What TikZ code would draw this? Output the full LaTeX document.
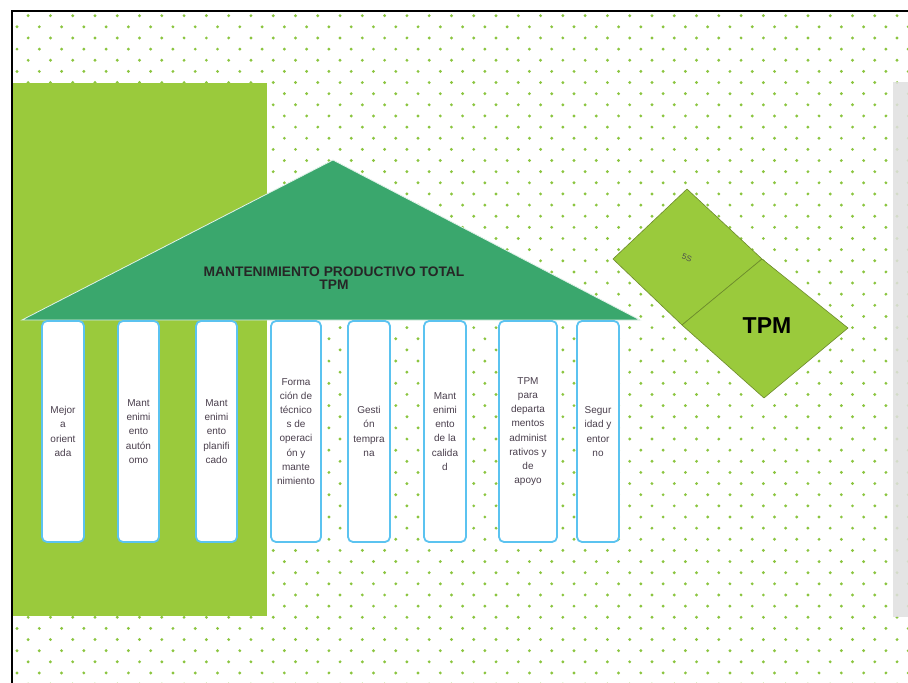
\documentclass[tikz,border=0pt]{standalone}
\usepackage{fontspec}
\setmainfont{Liberation Sans}
\definecolor{leaf}{HTML}{9ACA3C}
\definecolor{roofgreen}{HTML}{3AA76D}
\definecolor{dotgreen}{HTML}{8BC53F}
\definecolor{skyline}{HTML}{5BC3F0}
\definecolor{olive}{HTML}{6C8A2B}
\definecolor{pillartext}{HTML}{4A3F4D}
\tikzset{
  pillarbox/.style={draw=skyline, line width=1.8pt, fill=white, rounded corners=5pt,
    minimum height=221pt, inner sep=0pt, align=center, text=pillartext,
    font=\fontsize{10}{14.2}\selectfont},
  tile/.style={fill=leaf, draw=olive, line width=0.6pt, line join=round},
  dot/.style={fill=dotgreen},
}
\begin{document}
\begin{tikzpicture}[x=1pt,y=-1pt]
\useasboundingbox (0,0) rectangle (908,683);
\fill[white] (0,0) rectangle (908,683);

% dotted background inside the frame
\begin{scope}
  \clip (12,12) rectangle (908,683);
  \foreach \k in {0,...,61}{
    \pgfmathsetmacro\yy{15.7+11.14*\k}
    \pgfmathsetmacro\xo{17+11.14*(1-mod(\k,2))}
    \foreach \j in {0,...,40}{
      \fill[dot] (\xo+22.28*\j,\yy) circle (1.6);
    }
  }
\end{scope}

% grey strip on the right edge
\fill[black!12, opacity=0.85] (893,82) rectangle (908,617);

% frame
\draw[line width=2pt] (11.5,683) -- (11.5,11) -- (908,11);

% green backdrop block
\fill[leaf] (12.5,83) rectangle (267,616);

% roof
\fill[roofgreen, draw=white!85!roofgreen, line width=0.8pt] (22,320) -- (333,160) -- (640,320) -- cycle;
\node[font=\bfseries\fontsize{13.8}{13}\selectfont, align=center, text=black!85] (roofText) at (334,278)
  {MANTENIMIENTO PRODUCTIVO TOTAL\\TPM};

% pillars
\node[pillarbox, minimum width=42pt] (p1) at (63,431.5) {Mejor\\a\\orient\\ada};
\node[pillarbox, minimum width=41pt] (p2) at (138.5,431.5) {Mant\\enimi\\ento\\autón\\omo};
\node[pillarbox, minimum width=41pt] (p3) at (216.5,431.5) {Mant\\enimi\\ento\\planifi\\cado};
\node[pillarbox, minimum width=50pt] (p4) at (296,431.5) {Forma\\ción de\\técnico\\s de\\operaci\\ón y\\mante\\nimiento};
\node[pillarbox, minimum width=42pt] (p5) at (369,431.5) {Gesti\\ón\\tempra\\na};
\node[pillarbox, minimum width=42pt] (p6) at (445,431.5) {Mant\\enimi\\ento\\de la\\calida\\d};
\node[pillarbox, minimum width=58pt] (p7) at (528,431.5) {TPM\\para\\departa\\mentos\\administ\\rativos y\\de\\apoyo};
\node[pillarbox, minimum width=42pt] (p8) at (598,431.5) {Segur\\idad y\\entor\\no};

% tilted tiles
\draw[tile] (687,189) -- (762,259) -- (682,325) -- (613,259) -- cycle;
\draw[tile] (762,259) -- (848,328) -- (764,398) -- (682,325) -- cycle;
\node[font=\fontsize{8}{8}\selectfont, rotate=-20, text=black!70, inner sep=0pt] (fiveS) at (687,258) {5S};
\node[font=\bfseries\fontsize{23}{23}\selectfont, text=black] (tpm) at (767,326) {TPM};
\end{tikzpicture}
\end{document}
